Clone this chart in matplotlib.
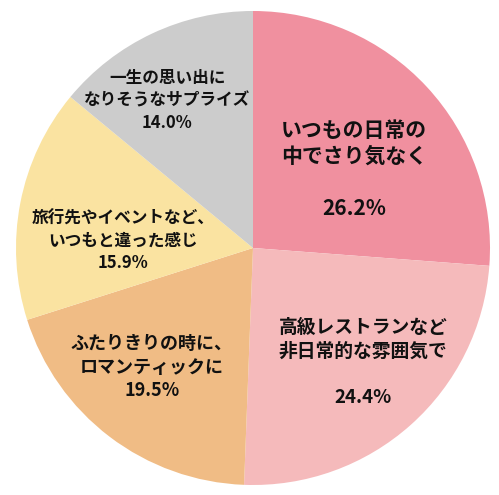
import numpy as np
import matplotlib
matplotlib.use('Agg')
import matplotlib.pyplot as plt

plt.rcParams['font.family'] = ['Noto Sans CJK JP', 'DejaVu Sans']

# データ（12時から時計回り）
labels = ['いつもの日常の\n中でさり気なく', '高級レストランなど\n非日常的な雰囲気で',
          'ふたりきりの時に、\nロマンティックに', '旅行先やイベントなど、\nいつもと違った感じ',
          '一生の思い出に\nなりそうなサプライズ']
shares = [26.2, 24.4, 19.5, 15.9, 14.0]
colors = ['#F0909F', '#F5BABB', '#F0BC85', '#FAE3A1', '#CCCCCC']

# ラベルの置き方
label_r = [0.54, 0.67, 0.66, 0.55, 0.72]
label_da = [-5, 2, -3, 8, 5]
label_fs = [15, 13.5, 13, 12, 12]
gap_line = [True, True, False, False, False]


def main():
	fig = plt.figure(figsize=(4.99, 4.95), dpi=100)
	ax = fig.add_axes([16 / 499, 10 / 495, 474 / 499, 474 / 495])
	wedges, _ = ax.pie(shares, colors=colors, startangle=90, counterclock=False,
					   radius=1.0, wedgeprops=dict(linewidth=0))
	for i, w in enumerate(wedges):
		mid = np.deg2rad((w.theta1 + w.theta2) / 2 + label_da[i])
		x = label_r[i] * np.cos(mid)
		y = label_r[i] * np.sin(mid)
		sep = '\n\n' if gap_line[i] else '\n'
		txt = labels[i] + sep + f'{shares[i]:.1f}%'
		ax.text(x, y, txt, ha='center', va='center', fontsize=label_fs[i],
				fontweight='bold', color='#111111', linespacing=1.3)
	ax.set_xlim(-1, 1)
	ax.set_ylim(-1, 1)
	ax.set_aspect('equal')
	ax.axis('off')
	fig.savefig('out.png', dpi=100)


if __name__ == '__main__':
	main()
